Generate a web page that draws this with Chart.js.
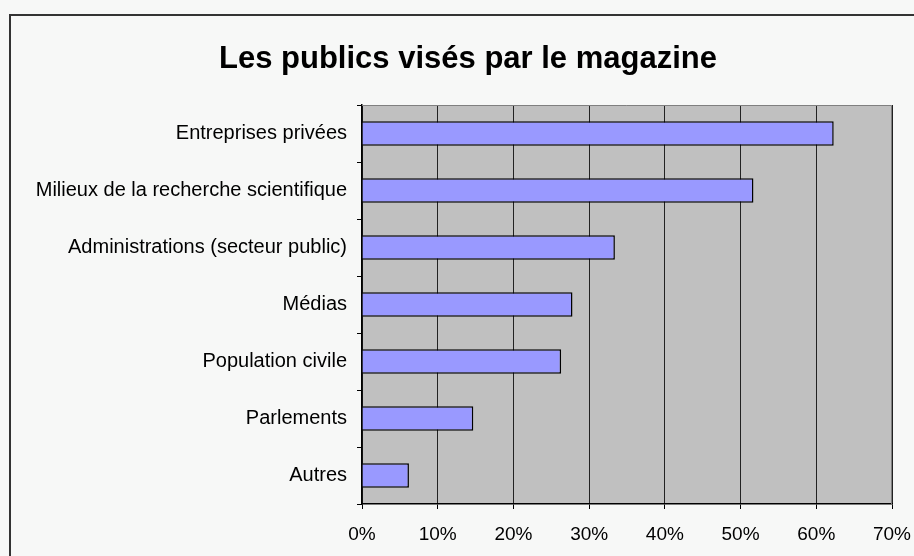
<!DOCTYPE html>
<html>
<head>
<meta charset="utf-8">
<script src="https://cdn.jsdelivr.net/npm/chart.js@4"></script>
<style>
  html, body { margin: 0; padding: 0; background: #f7f8f7; }
  #wrap { width: 914px; height: 556px; }
</style>
</head>
<body>
<div id="wrap"><canvas id="publicsChart"></canvas></div>
<script>
const categories = [
    'Entreprises privées',
    'Milieux de la recherche scientifique',
    'Administrations (secteur public)',
    'Médias',
    'Population civile',
    'Parlements',
    'Autres'
];
const shares = [62.3, 51.7, 33.4, 27.8, 26.3, 14.7, 6.2];
const titleText = 'Les publics visés par le magazine';

// frame, plot background and title
const decor = {
    id: 'decor',
    beforeDraw(chart) {
        const ctx = chart.ctx;
        const a = chart.chartArea;
        ctx.save();
        ctx.fillStyle = '#f7f8f7';
        ctx.fillRect(0, 0, chart.width, chart.height);
        ctx.strokeStyle = '#333';
        ctx.lineWidth = 2;
        ctx.strokeRect(10, 15, chart.width + 10, chart.height + 10);
        ctx.fillStyle = '#c0c0c0';
        ctx.fillRect(a.left, a.top, a.right - a.left, a.bottom - a.top);
        ctx.fillStyle = '#000';
        ctx.font = 'bold 31px "Liberation Sans", Arial, sans-serif';
        ctx.textAlign = 'center';
        ctx.textBaseline = 'middle';
        ctx.fillText(titleText, 468, 59);
        ctx.restore();
    },
    afterDatasetsDraw(chart) {
        const ctx = chart.ctx;
        const a = chart.chartArea;
        ctx.save();
        ctx.strokeStyle = '#808080';
        ctx.lineWidth = 1;
        ctx.beginPath();
        ctx.moveTo(a.left, a.top + 0.5);
        ctx.lineTo(a.right - 0.5, a.top + 0.5);
        ctx.lineTo(a.right - 0.5, a.bottom);
        ctx.stroke();
        ctx.restore();
    }
};

const ctx = document.getElementById('publicsChart').getContext('2d');
new Chart(ctx, {
    type: 'bar',
    data: {
        labels: categories,
        datasets: [{
            label: 'Publics',
            data: shares,
            backgroundColor: '#9999ff',
            borderColor: '#000',
            borderWidth: 1.5,
            categoryPercentage: 1,
            barPercentage: 0.43
        }]
    },
    options: {
        indexAxis: 'y',
        responsive: true,
        maintainAspectRatio: false,
        animation: false,
        layout: { padding: { top: 105, right: 22, left: 0, bottom: 0 } },
        plugins: {
            legend: { display: false },
            title: { display: false },
            tooltip: { enabled: false }
        },
        scales: {
            x: {
                min: 0,
                max: 70,
                ticks: {
                    stepSize: 10,
                    callback: v => v + '%',
                    color: '#000',
                    padding: 14,
                    font: { family: '"Liberation Sans", Arial, sans-serif', size: 19 }
                },
                grid: { color: '#222', lineWidth: 1, tickLength: 5, tickColor: '#000' },
                border: { color: '#000', width: 1.5 },
                afterFit(scale) {
                    scale.height = 52;
                    scale.paddingRight = 0;
                }
            },
            y: {
                ticks: {
                    color: '#000',
                    padding: 10,
                    font: { family: '"Liberation Sans", Arial, sans-serif', size: 20 }
                },
                grid: { drawOnChartArea: false, tickLength: 5, tickColor: '#000', offset: true },
                border: { color: '#000', width: 1.5 },
                afterFit(scale) { scale.width = 362; }
            }
        }
    },
    plugins: [decor]
});
</script>
</body>
</html>
